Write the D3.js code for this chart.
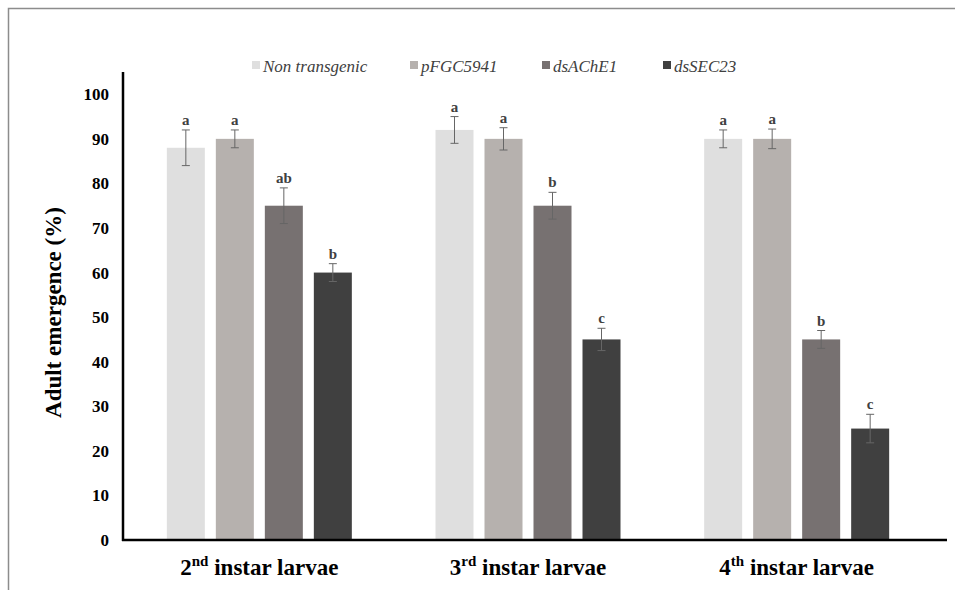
<!DOCTYPE html>
<html>
<head>
<meta charset="utf-8">
<script src="https://cdn.jsdelivr.net/npm/d3@7"></script>
<style>
  body { margin: 0; background: #fff; }
  svg { display: block; }
</style>
</head>
<body>
<svg id="chart" width="955" height="590" style="font-family: 'Liberation Serif', 'DejaVu Serif', 'Times New Roman', serif;"></svg>
<script>
// データ
const stages = ['2nd', '3rd', '4th'];
const stageSup = ['nd', 'rd', 'th'];
const stageNum = ['2', '3', '4'];
const seriesNames = ['Non transgenic', 'pFGC5941', 'dsAChE1', 'dsSEC23'];
const seriesColors = ['#dfdfdf', '#b6b1ae', '#777171', '#404040'];
const means = [
    [88, 90, 75, 60],
    [92, 90, 75, 45],
    [90, 90, 45, 25]
];
const errors = [
    [4, 2, 4, 2],
    [3, 2.5, 3, 2.5],
    [2, 2.2, 2, 3.2]
];
const letters = [
    ['a', 'a', 'ab', 'b'],
    ['a', 'a', 'b', 'c'],
    ['a', 'a', 'b', 'c']
];
const yTicks = [0, 10, 20, 30, 40, 50, 60, 70, 80, 90, 100];

const svg = d3.select('#chart');

// 枠線
svg.append('path')
    .attr('d', 'M8.5,590 L8.5,8.5 L955,8.5')
    .attr('fill', 'none')
    .attr('stroke', '#8c8c8c')
    .attr('stroke-width', 1.5);

const axisLeft = 123;
const axisRight = 947;

const y = d3.scaleLinear().domain([0, 105]).range([540, 72]);
const x0 = d3.scaleBand().domain(stages).range([125, 931]);
const x1 = d3.scaleBand().domain(seriesNames).range([0, 196]).paddingInner(11 / 49).paddingOuter(11 / 98);

// 目盛りラベル
svg.append('g')
    .selectAll('text')
    .data(yTicks)
    .enter().append('text')
    .attr('x', 109)
    .attr('y', d => y(d))
    .attr('dy', '0.35em')
    .attr('text-anchor', 'end')
    .attr('font-weight', 'bold')
    .attr('font-size', 17)
    .text(d => d);

// 棒グラフ
const groups = svg.append('g')
    .selectAll('g')
    .data(stages)
    .enter().append('g')
    .attr('transform', d => `translate(${x0(d) + x0.bandwidth() / 2 - 98},0)`);

const cells = groups.selectAll('g')
    .data((d, i) => seriesNames.map((s, j) => ({
        series: s, color: seriesColors[j],
        value: means[i][j], err: errors[i][j], letter: letters[i][j]
    })))
    .enter().append('g');

cells.append('rect')
    .attr('x', d => x1(d.series))
    .attr('y', d => y(d.value))
    .attr('width', x1.bandwidth())
    .attr('height', d => y(0) - y(d.value))
    .attr('fill', d => d.color);

// 誤差棒
const eb = cells.append('g')
    .attr('stroke', '#666')
    .attr('stroke-width', 1);
eb.append('line')
    .attr('x1', d => x1(d.series) + x1.bandwidth() / 2)
    .attr('x2', d => x1(d.series) + x1.bandwidth() / 2)
    .attr('y1', d => y(d.value + d.err))
    .attr('y2', d => y(d.value - d.err));
[1, -1].forEach(sign => {
    eb.append('line')
        .attr('x1', d => x1(d.series) + x1.bandwidth() / 2 - 4)
        .attr('x2', d => x1(d.series) + x1.bandwidth() / 2 + 4)
        .attr('y1', d => y(d.value + sign * d.err))
        .attr('y2', d => y(d.value + sign * d.err));
});

// 有意差の文字
cells.append('text')
    .attr('x', d => x1(d.series) + x1.bandwidth() / 2)
    .attr('y', d => y(d.value + d.err) - 5)
    .attr('text-anchor', 'middle')
    .attr('font-weight', 'bold')
    .attr('font-size', 15)
    .attr('fill', '#404040')
    .text(d => d.letter);

// 軸線
svg.append('line')
    .attr('x1', axisLeft).attr('x2', axisLeft)
    .attr('y1', y(105)).attr('y2', y(0) + 1)
    .attr('stroke', '#000').attr('stroke-width', 2.5);
svg.append('line')
    .attr('x1', axisLeft - 1).attr('x2', axisRight)
    .attr('y1', y(0)).attr('y2', y(0))
    .attr('stroke', '#000').attr('stroke-width', 2.5);

// X軸ラベル
const xl = svg.append('g')
    .selectAll('text')
    .data(stages)
    .enter().append('text')
    .attr('x', d => x0(d) + x0.bandwidth() / 2)
    .attr('y', 575)
    .attr('text-anchor', 'middle')
    .attr('font-weight', 'bold')
    .attr('font-size', 23);
xl.append('tspan').text((d, i) => stageNum[i]);
xl.append('tspan').attr('dy', -9).attr('font-size', 15).text((d, i) => stageSup[i]);
xl.append('tspan').attr('dy', 9).text(' instar larvae');

// Y軸タイトル
svg.append('text')
    .attr('transform', `translate(61,${(185 + 440) / 2}) rotate(-90)`)
    .attr('text-anchor', 'middle')
    .attr('font-weight', 'bold')
    .attr('font-size', 23)
    .text('Adult emergence (%)');

// 凡例
const legendX = [252, 410, 542, 663];
const legend = svg.append('g')
    .selectAll('g')
    .data(seriesNames)
    .enter().append('g')
    .attr('transform', (d, i) => `translate(${legendX[i]},61)`);
legend.append('rect')
    .attr('width', 8).attr('height', 8)
    .attr('fill', (d, i) => seriesColors[i]);
legend.append('text')
    .attr('x', 11)
    .attr('y', 10.5)
    .attr('font-style', 'italic')
    .attr('font-size', 17)
    .attr('fill', '#404040')
    .text(d => d);
</script>
</body>
</html>
